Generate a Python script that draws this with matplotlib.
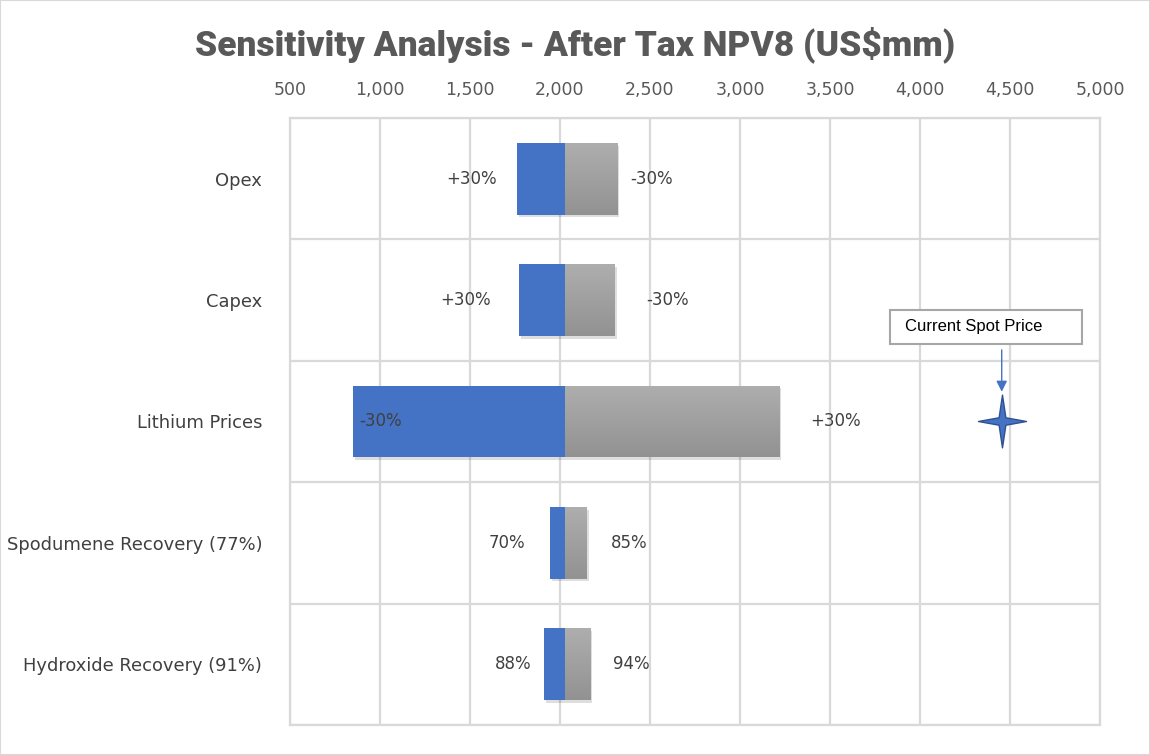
import numpy as np
import matplotlib.pyplot as plt
import matplotlib.patheffects as pe
from matplotlib.path import Path
from matplotlib.patches import Rectangle
from matplotlib.colors import LinearSegmentedColormap

# ---- data ---------------------------------------------------------------
categories = ["Opex", "Capex", "Lithium Prices",
              "Spodumene Recovery (77%)", "Hydroxide Recovery (91%)"]
base_npv = 2028
low_npv = [1761, 1772, 850, 1944, 1911]      # blue side
high_npv = [2317, 2305, 3217, 2150, 2167]    # grey side
low_labels = ["+30%", "+30%", "-30%", "70%", "88%"]
high_labels = ["-30%", "-30%", "+30%", "85%", "94%"]
spot_price_npv = 4454
x_ticks = [500, 1000, 1500, 2000, 2500, 3000, 3500, 4000, 4500, 5000]

# label placement (pixels from bar end) and alignment
low_off = [-20, -28, 6, -25, -12]
low_ha = ["right", "right", "left", "right", "right"]
high_off = [13, 31, 31, 24, 23]

BLUE = "#4472C4"
GRID = "#D9D9D9"
TXT = "#404040"
FONT = "DejaVu Sans"

fig = plt.figure(figsize=(11.5, 7.55), dpi=100)
ax = fig.add_axes([290 / 1150, 1 - 725 / 755, 810 / 1150, 607 / 755])

y = np.arange(len(categories))
h = 0.59
shadow = [pe.SimplePatchShadow(offset=(1.5, -2), shadow_rgbFace="black", alpha=0.13), pe.Normal()]

# gradient image for grey bars
grad = np.linspace(0, 1, 100).reshape(-1, 1)
grey_cmap = LinearSegmentedColormap.from_list("g", ["#AEAEAE", "#929292"])

for i in range(len(categories)):
    lo = low_npv[i]
    hi = high_npv[i]
    b1 = ax.barh(y[i], base_npv - lo, left=lo, height=h, color=BLUE, zorder=3)
    b1[0].set_path_effects(shadow)
    b2 = ax.barh(y[i], hi - base_npv, left=base_npv, height=h, color="#A0A0A0", zorder=3)
    b2[0].set_path_effects(shadow)
    im = ax.imshow(grad, cmap=grey_cmap, aspect="auto", zorder=4,
                   extent=[base_npv, hi, y[i] + h / 2, y[i] - h / 2])
    im.set_clip_path(b2[0])

    ax.annotate(low_labels[i], xy=(lo, y[i]), xytext=(low_off[i], 0),
                textcoords="offset pixels", ha=low_ha[i], va="center",
                fontsize=12, color=TXT, family=FONT, zorder=6)
    ax.annotate(high_labels[i], xy=(hi, y[i]), xytext=(high_off[i], 0),
                textcoords="offset pixels", ha="left", va="center",
                fontsize=12, color=TXT, family=FONT, zorder=6)

# current spot price star + callout
star = Path.unit_regular_star(4, innerCircle=0.2)
star = Path(star.vertices * [1.0, 1.1], star.codes)
ax.plot(spot_price_npv, 2, marker=star, markersize=38, color=BLUE,
        markeredgecolor="#2F528F", markeredgewidth=1, zorder=5)
ax.annotate("", xy=(spot_price_npv, 2 - 0.245), xytext=(spot_price_npv, 2 - 0.59),
            arrowprops=dict(arrowstyle="-|>", color=BLUE, lw=1, mutation_scale=16,
                            shrinkA=0, shrinkB=0), zorder=5)
ax.add_patch(Rectangle((spot_price_npv - 620, 2 - 0.78 - 0.14), 1065, 0.28,
                       facecolor="white", edgecolor="#A6A6A6", lw=1.5, zorder=5))
ax.text(spot_price_npv - 535, 2 - 0.78, "Current Spot Price", ha="left",
        va="center", fontsize=12, family="Liberation Sans", color="black", zorder=6)

# axes styling
ax.set_xlim(500, 5000)
ax.set_ylim(len(categories) - 0.5, -0.5)
ax.xaxis.tick_top()
ax.set_xticks(x_ticks)
ax.set_xticklabels([f"{v:,}" for v in x_ticks], fontsize=12.5, color="#595959",
                   family=FONT)
ax.set_yticks(y)
ax.set_yticklabels(categories, fontsize=12.9, color=TXT, family=FONT)
ax.set_yticks(np.arange(len(categories) + 1) - 0.5, minor=True)
ax.tick_params(axis="both", which="both", length=0)
ax.tick_params(axis="x", pad=14)
ax.tick_params(axis="y", pad=20)
ax.grid(axis="x", which="major", color=GRID, lw=1.6, zorder=0)
ax.grid(axis="y", which="minor", color=GRID, lw=1.6, zorder=0)
for s in ax.spines.values():
    s.set_color(GRID)
    s.set_linewidth(1.6)

fig.text(0.5, 1 - 45 / 755, "Sensitivity Analysis - After Tax NPV8 (US$mm)",
         ha="center", va="center", fontsize=25.5, fontweight="heavy", color="#595959",
         family="Roboto")
fig.patches.append(Rectangle((0, 0), 1, 1, transform=fig.transFigure, fill=False,
                             edgecolor=GRID, lw=1.5))

fig.savefig("out.png", dpi=100)
